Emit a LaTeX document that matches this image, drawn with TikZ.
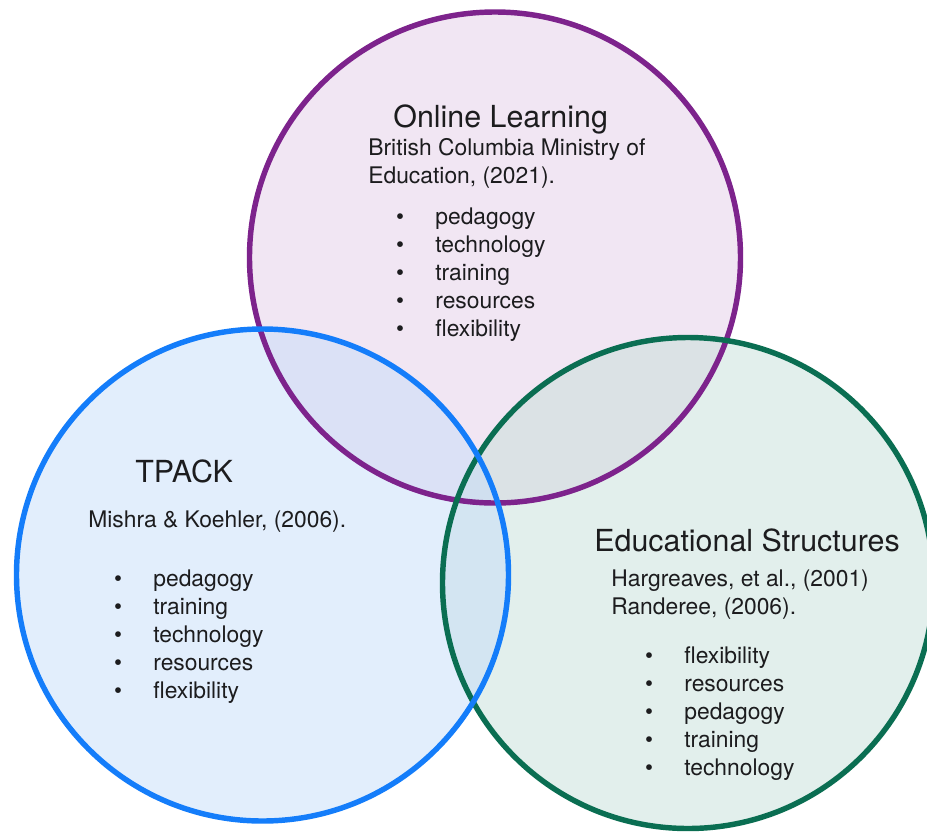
\documentclass[tikz,border=0pt]{standalone}
\usepackage{fontspec}
\setmainfont{TeX Gyre Heros}
\usepackage{xcolor}
\usetikzlibrary{positioning}

\definecolor{onlineline}{RGB}{125,35,140}
\definecolor{onlinefill}{RGB}{227,205,231}
\definecolor{tpackline}{RGB}{20,125,250}
\definecolor{tpackfill}{RGB}{197,221,249}
\definecolor{structline}{RGB}{10,110,82}
\definecolor{structfill}{RGB}{197,223,217}
\definecolor{inktext}{RGB}{28,28,30}

\begin{document}
\begin{tikzpicture}[x=0.02cm, y=-0.02cm,
    ring/.style={line width=3.1pt},
    shade/.style={fill opacity=0.5},
    heading/.style={anchor=base west, inner sep=0, text=inktext,
        font=\fontsize{17.3pt}{20pt}\selectfont},
    source/.style={anchor=base west, inner sep=0, text=inktext,
        font=\fontsize{13pt}{15pt}\selectfont},
    dot/.style={anchor=base, inner sep=0, text=inktext,
        font=\fontsize{13pt}{15pt}\selectfont}
  ]
  \clip (0,0) rectangle (927,833);

  % centres of the three sets
  \coordinate (online) at (495,257.5);
  \coordinate (tpack) at (262.5,575);
  \coordinate (struct) at (688,583);

  % light fills first, so overlaps mix
  \fill[shade, onlinefill] (online) circle[radius=245.5];
  \fill[shade, structfill] (struct) circle[radius=245.5];
  \fill[shade, tpackfill] (tpack) circle[radius=246];

  % outlines on top
  \draw[ring, onlineline] (online) circle[radius=245.5];
  \draw[ring, structline] (struct) circle[radius=245.5];
  \draw[ring, tpackline] (tpack) circle[radius=246];

  % Online Learning
  \node[heading] (online-title) at (393,127) {Online Learning};
  \node[source] (online-src1) at (368,155) {British Columbia Ministry of};
  \node[source] (online-src2) at (368,183) {Education, (2021).};
  \foreach \word [count=\i] in {pedagogy,technology,training,resources,flexibility}
  {
    \node[dot] (online-dot\i) at (400,197+27.8*\i) {•};
    \node[source] (online-item\i) at (435,197+27.8*\i) {\word};
  }

  % TPACK
  \node[heading] (tpack-title) at (135,482) {TPACK};
  \node[source] (tpack-src) at (88,527) {Mishra \& Koehler, (2006).};
  \foreach \word [count=\i] in {pedagogy,training,technology,resources,flexibility}
  {
    \node[dot] (tpack-dot\i) at (118,559+27.8*\i) {•};
    \node[source] (tpack-item\i) at (153,559+27.8*\i) {\word};
  }

  % Educational Structures
  \node[heading] (struct-title) at (594,551) {Educational Structures};
  \node[source] (struct-src1) at (611,586) {Hargreaves, et al., (2001)};
  \node[source] (struct-src2) at (611,614) {Randeree, (2006).};
  \foreach \word [count=\i] in {flexibility,resources,pedagogy,training,technology}
  {
    \node[dot] (struct-dot\i) at (649,636+27.8*\i) {•};
    \node[source] (struct-item\i) at (684,636+27.8*\i) {\word};
  }
\end{tikzpicture}
\end{document}
